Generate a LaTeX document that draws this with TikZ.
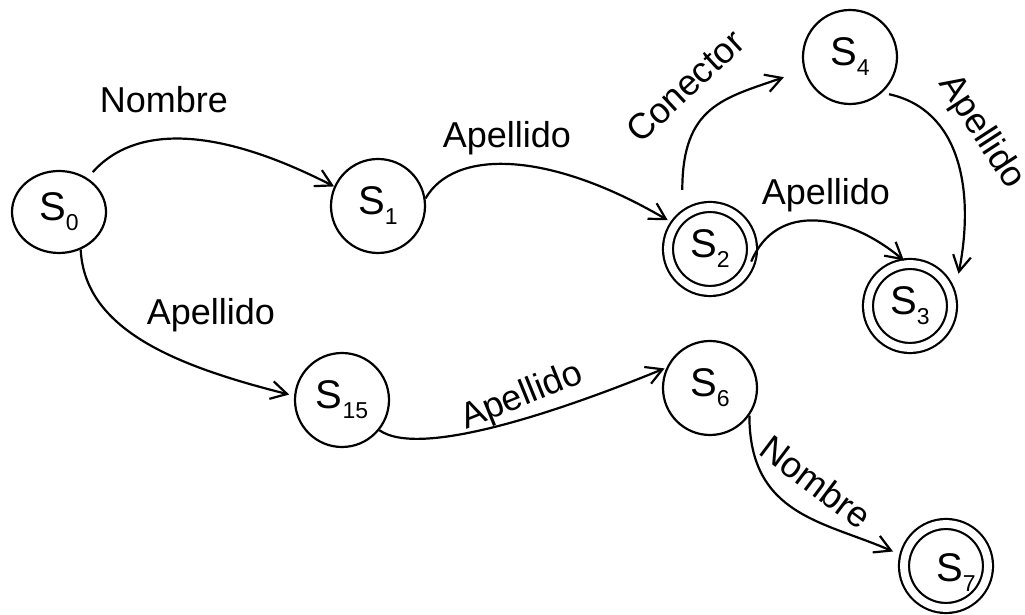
\documentclass[tikz,border=0pt]{standalone}
\usepackage{fontspec}
\setmainfont{Liberation Sans}
\usetikzlibrary{arrows.meta,shapes.geometric}

% S con subindice
\newcommand{\edo}[1]{S\raisebox{-5pt}{\fontsize{11.5}{12}\selectfont #1}}

\begin{document}
\begin{tikzpicture}[x=0.5pt, y=0.5pt,
    estado/.style={circle, draw, line width=1.1pt, minimum size=47pt, inner sep=0pt,
        font=\fontsize{20}{22}\selectfont},
    final/.style={estado, minimum size=42pt, double, double distance=3.9pt},
    flecha/.style={line width=1.1pt, -{Straight Barb[length=8pt,width=9pt]}},
    etiq/.style={font=\fontsize{18}{20}\selectfont}]

    \useasboundingbox (0,0) rectangle (1025,615);

    % Estados
    \node[estado, ellipse, minimum height=41pt] (S0) at (59,403) {\edo{0}};
    \foreach \n/\x/\y in {1/378/409, 4/850/558, 15/342/215, 6/710/227} {
        \node[estado] (S\n) at (\x,\y) {\edo{\n}};
    }
    \foreach \n/\x/\y in {2/710/366, 3/910/309} {
        \node[final] (S\n) at (\x,\y) {\edo{\n}};
    }
    % S7: texto corrido abajo a la derecha
    \node[final] (S7) at (946,49) {\hspace{10pt}\raisebox{-3.5pt}[\height][\depth]{\edo{7}}};

    % Transiciones
    \draw[flecha, shorten <=4pt] (S0.50) .. controls +(39,44) and +(-137,70) .. (S1.156);
    \draw[flecha, shorten >=4pt] (S1.9) .. controls +(28,49) and +(-128,75) .. (S2.145);
    \draw[flecha, shorten <=13pt, shorten >=10.5pt] (S2.130) .. controls +(0,110) and +(-80,-28) .. (S4.196);
    \draw[flecha, shorten <=3.5pt, shorten >=14.5pt] (S4.-48) .. controls +(78,-17) and +(22,112) .. (S3.5);
    \draw[flecha, shorten >=2pt] (S2.-17) .. controls +(25,60) and +(-60,50) .. (S3.94);
    \draw[flecha, shorten >=2.5pt] (S0.-60) .. controls +(4,-80) and +(-119,30) .. (S15.175);
    \draw[flecha, shorten >=1pt] (S15.-39) .. controls +(40,-28) and +(-110,-45) .. (S6.155);
    \draw[flecha, shorten >=6pt] (S6.-35) .. controls +(0,-100) and +(-80,35) .. (S7.167);

    % Etiquetas
    \node[etiq, anchor=base] (lNombre) at (164,502) {Nombre};
    \node[etiq, anchor=base] (lApellidoA) at (507,467) {Apellido};
    \node[etiq, anchor=base] (lApellidoB) at (211,290) {Apellido};
    \node[etiq, anchor=base] (lApellidoC) at (826,410) {Apellido};
    \node[etiq, rotate=43] (lConector) at (685,529) {Conector};
    \node[etiq, rotate=-57] (lApellidoD) at (981,483) {Apellido};
    \node[etiq, rotate=22] (lApellidoE) at (522,218) {Apellido};
    \node[etiq, rotate=-37] (lNombreB) at (816,133) {Nombre};

\end{tikzpicture}
\end{document}
